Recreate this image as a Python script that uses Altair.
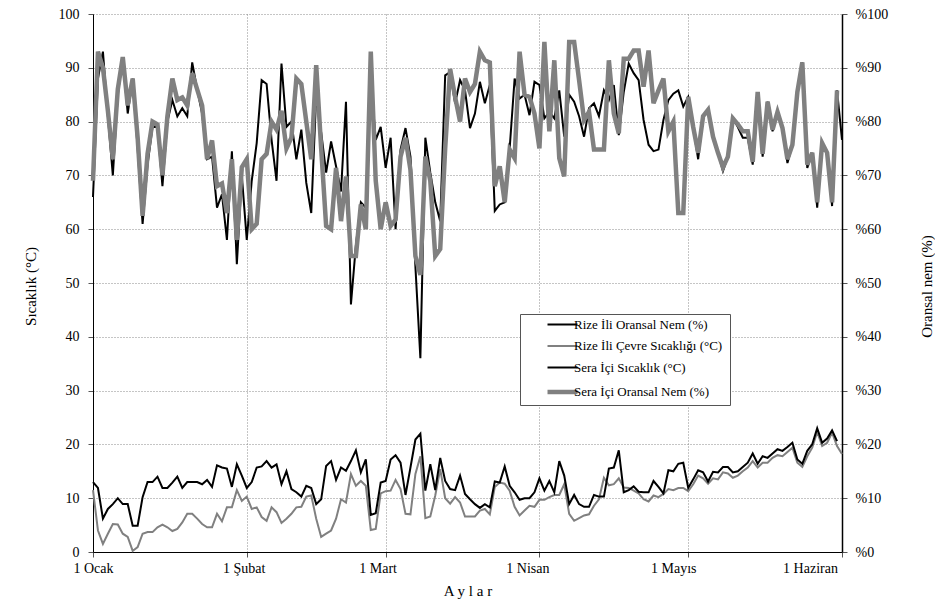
import altair as alt
import pandas as pd

FONT = "Times New Roman, Liberation Serif, DejaVu Serif, serif"

series_names = ["Rize İli Oransal Nem (%)", "Rize İli  Çevre Sıcaklığı (°C)",
                "Sera İçi Sıcaklık (°C)", "Sera İçi Oransal Nem (%)"]
series_colors = ["#000000", "#808080", "#000000", "#808080"]
series_widths = [2, 2, 2, 4.5]

month_days = [0, 31, 59, 90, 120, 151]
month_labels = ["1 Ocak", "1 Şubat", "1 Mart", "1 Nisan", "1 Mayıs", "1 Haziran"]
label_shift = [0, -3, -8, -12, -15, -32]

y_ticks = list(range(0, 101, 10))

rize_nem = [66, 88, 93, 81, 70, 85, 92, 81.5, 88, 75, 61, 72, 79, 79, 68, 80, 84, 81, 82.5, 81,
            91, 86, 81.5, 73, 73.5, 64, 66.5, 58, 74.5, 53.5, 70, 58, 69, 76, 87.7, 87, 76.6, 69, 90.8, 79,
            80, 73, 78.5, 68.6, 63, 85, 78, 70.5, 76.3, 71.7, 67, 83.7, 46, 57, 65, 64, 88, 76.6, 79, 71.4,
            77, 60, 74.8, 78.8, 73.5, 53, 36, 77, 70.5, 65, 61.5, 88.6, 89.2, 83.4, 87.7, 85.8, 78.8, 81.5, 87.4, 83.4,
            86.8, 63.4, 64.6, 65, 75, 88, 84.3, 85, 81.2, 87.4, 86.8, 80.6, 81.8, 80.6, 85.8, 77.2, 85, 83.7, 81, 77.2,
            82.5, 83.4, 81, 85.8, 84, 86.8, 77.5, 85.5, 90.8, 89, 87.7, 80.3, 75.7, 74.5, 74.8, 80.3, 84, 85.2, 85.8, 82.8,
            84.6, 79, 73, 81, 82.2, 77.2, 74.2, 70.8, 73.5, 80.6, 79, 77, 77, 72, 85.5, 73.5, 83.7, 78.2, 81.8, 78.8,
            72.3, 75.7, 85.5, 91, 71.4, 74.2, 64, 76, 74.2, 64.3, 85.8, 76.6]

sera_nem = [69, 93, 90, 82, 73, 86, 92, 83, 88, 77, 62.5, 74, 80, 79.5, 70, 81, 88, 84, 84.5, 83,
            89, 86, 83, 73, 76.5, 68, 68.5, 63, 73, 58, 71.5, 73, 60, 61, 73, 74, 80, 78.5, 82, 75,
            77, 88, 87, 80, 73, 90.5, 75, 60.6, 60, 71.4, 61.5, 69.8, 55, 55, 64.6, 60, 93, 69, 60, 65,
            60.6, 61.8, 73.5, 77, 71, 55, 51.5, 73.5, 69, 55, 56.3, 75, 89.8, 84.6, 80, 88, 85.5, 87, 93, 91.4,
            91, 68, 71.7, 65, 74.8, 73.2, 93, 85, 84.6, 81.5, 75, 94.8, 78.2, 91.4, 73.2, 69.8, 94.8, 94.8, 87.7, 80.3,
            81.8, 74.8, 74.8, 74.8, 91.4, 81.5, 77.8, 91.7, 91.7, 93.2, 93.2, 86.5, 93.2, 83.4, 85.8, 88, 78.2, 80, 63, 63,
            84.6, 79, 74.2, 81, 82.2, 77.2, 74.2, 71.5, 73.5, 80.6, 79.5, 78.2, 78.2, 72.5, 85.5, 74, 83.7, 78.5, 81.8, 78.8,
            73, 75.7, 85.5, 91, 72, 74.2, 65, 76, 74.2, 65, 85.8, None]

sera_temp = [13, 11.9, 6.2, 8, 8.9, 10, 8.9, 8.9, 4.9, 4.9, 10.2, 13, 13, 14, 11.9, 11.9, 12.9, 14, 11.9, 13,
             13, 13, 12.6, 13.4, 12.1, 16.1, 15.7, 15.5, 12.1, 16.3, 14.2, 11.9, 13, 15.7, 15.9, 16.9, 15.7, 16.3, 12.6, 15,
             11.7, 11.1, 10.3, 12.3, 11.9, 8.9, 9.8, 16, 16.9, 13.4, 15.7, 15.1, 16.9, 18.9, 14.8, 17.2, 6.9, 7.2, 12.9, 13.2,
             17.2, 18, 16.6, 10.6, 15.7, 20.9, 22, 11.4, 16.3, 11.5, 17.5, 13.2, 11.7, 11.5, 14.2, 10.8, 9.8, 8.9, 8.2, 8.9,
             8.3, 13.1, 12.9, 15.9, 12.3, 11.1, 9.7, 10, 10, 11.1, 13.7, 11.4, 13.2, 11.1, 16.9, 14.2, 8.9, 10.6, 8.9, 8.4,
             8.4, 10.6, 10.3, 10.3, 15.5, 15.7, 18.9, 11.1, 11.5, 12.2, 11.2, 11.1, 11.1, 13.2, 12.1, 10.9, 15.2, 15, 16.4, 16.6,
             11.9, 13.5, 15.2, 14.8, 13.1, 14.9, 14.8, 15.8, 15.8, 14.8, 15, 15.8, 16.6, 18.3, 16.4, 17.8, 17.5, 18.3, 19.1, 18.8,
             19.5, 20.3, 17.2, 16.4, 18.8, 20, 23, 20.3, 21.1, 22.6, 20.6, None]

rize_temp = [11.5, 4, 1.5, 3.4, 5.2, 5.1, 3.4, 2.8, 0.2, 0.9, 3.4, 3.7, 3.7, 4.6, 5.1, 4.6, 3.9, 4.3, 5.5, 7.1,
             7.1, 6.2, 5.2, 4.6, 4.6, 7.1, 5.7, 8.3, 8.3, 11.5, 9.5, 10.3, 8, 8.3, 6.5, 5.8, 8.3, 7.4, 5.4, 6.2,
             7.1, 8.3, 8.4, 10.3, 10.5, 6.2, 2.8, 3.4, 4, 6.2, 9.8, 9.2, 14.5, 12.3, 13.2, 12.3, 4.1, 4.3, 10.9, 11.3,
             11.4, 13.4, 11.7, 7.1, 7, 14.5, 17.8, 6.3, 6.6, 10.5, 15.4, 10, 9, 10.2, 9.2, 6.6, 6.6, 6.6, 7.7, 8,
             7, 12.1, 12.9, 12.7, 11.4, 8.4, 6.8, 7.7, 8.6, 8.4, 9.7, 9.7, 10.2, 10.6, 10.6, 12.6, 7.1, 5.8, 6.3, 6.8,
             7, 8.6, 9.8, 13.8, 12.4, 12.6, 13.7, 12, 11.9, 11.4, 10.9, 9.8, 9.4, 10.5, 10.2, 10.8, 11.7, 11.5, 11.9, 11.9,
             11.3, 12.6, 14.2, 13.7, 12.7, 13.7, 13.5, 14.8, 14.6, 13.8, 14.2, 15, 15.7, 16.9, 15.7, 16.6, 16.6, 17.5, 18, 17.8,
             18.6, 19.4, 16.6, 15.8, 17.8, 19.4, 22.3, 19.7, 20.3, 22.2, 19.7, 18.2]


def frame(name, values):
    rows = [{"day": d, "value": v, "series": name} for d, v in enumerate(values) if v is not None]
    return pd.DataFrame(rows)


label_expr = " : ".join(f"datum.value == {d} ? '{t}'" for d, t in zip(month_days, month_labels)) + " : ''"
offset_cond = {
    "condition": [{"test": f"datum.value == {d}", "value": s}
                  for d, s in zip(month_days, label_shift) if s != 0],
    "value": 0,
}

x_enc = alt.X(
    "day:Q",
    scale=alt.Scale(domain=[0, 151], nice=False, zero=False),
    axis=alt.Axis(values=month_days, labelExpr=label_expr, labelOffset=offset_cond,
                  title="A y l a r", grid=True, gridDash=[1, 2], gridColor="#8a8a8a",
                  domainColor="black", domainWidth=1, tickColor="#555", tickSize=5,
                  labelFont=FONT, labelFontSize=14, labelColor="black", labelPadding=4,
                  labelFlush=False, labelOverlap=False,
                  titleFont=FONT, titleFontSize=15, titleFontWeight="normal", titleColor="black",
                  titleY=38, titleBaseline="middle"),
)

y_left = alt.Y(
    "value:Q",
    scale=alt.Scale(domain=[0, 100], nice=False),
    axis=alt.Axis(values=y_ticks, orient="left", title="Sıcaklık (°C)", grid=True,
                  gridDash=[1, 2], gridColor="#8a8a8a", domainColor="black", domainWidth=1,
                  tickColor="#555", tickSize=5, labelFont=FONT, labelFontSize=14,
                  labelColor="black", labelPadding=9, labelFlush=False,
                  titleFont=FONT, titleFontSize=15, titleFontWeight="normal", titleColor="black",
                  titleX=-63, titleY=272, titleBaseline="middle"),
)

y_right = alt.Y(
    "value:Q",
    scale=alt.Scale(domain=[0, 100], nice=False),
    axis=alt.Axis(values=y_ticks, orient="right", title="Oransal nem (%)", grid=False,
                  labelExpr="'%' + datum.value", domainColor="black", domainWidth=1.5,
                  tickColor="#555", tickSize=5, labelFont=FONT, labelFontSize=14,
                  labelColor="black", labelPadding=8, labelFlush=False,
                  titleFont=FONT, titleFontSize=15, titleFontWeight="normal", titleColor="black",
                  titleAngle=270, titleX=84, titleY=272, titleBaseline="middle"),
)

thick_test = f"datum.value === '{series_names[3]}'"

color_enc = alt.Color(
    "series:N",
    scale=alt.Scale(domain=series_names, range=series_colors),
    legend=alt.Legend(
        title=None, orient="none", legendX=427, legendY=300, direction="vertical",
        symbolType="stroke", symbolSize=900, labelFont=FONT, labelFontSize=13,
        labelColor="black", strokeColor="#555", fillColor="white", padding=4,
        rowPadding=7.5, labelLimit=0, symbolOffset=32, labelOffset=5,
        symbolStrokeWidth={"expr": f"{thick_test} ? {series_widths[3]} : {series_widths[0]}"},
    ),
)


def layer(idx, values, y_enc):
    return alt.Chart(frame(series_names[idx], values)).mark_line(
        strokeWidth=series_widths[idx]
    ).encode(x=x_enc, y=y_enc, color=color_enc)


temps = alt.layer(layer(1, rize_temp, y_left), layer(2, sera_temp, y_left))
hums = alt.layer(layer(0, rize_nem, y_right), layer(3, sera_nem, y_right))

chart = alt.layer(temps, hums).resolve_scale(y="independent").properties(
    width=749, height=538,
    autosize="none",
    padding={"left": 85, "top": 6, "right": 93, "bottom": 48},
    background="white",
).configure_view(stroke=None)

chart.save("out.html", embed_options={"renderer": "svg", "actions": False})
